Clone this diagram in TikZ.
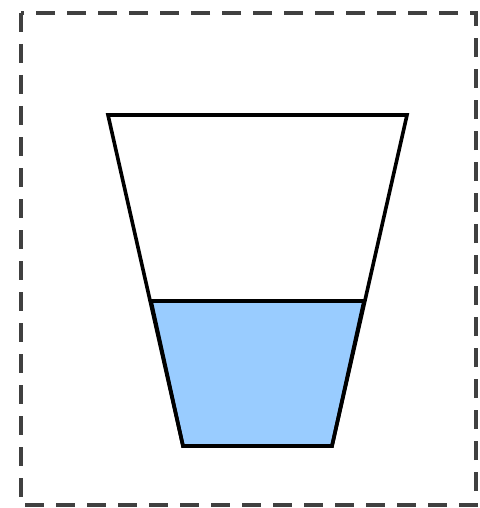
\documentclass[tikz,border=0pt]{standalone}
\usepackage{tikz}
\usetikzlibrary{backgrounds}

\definecolor{waterblue}{RGB}{153,204,255}

\begin{document}
\begin{tikzpicture}[x=1pt, y=-1pt, line join=miter]
    \useasboundingbox (0,0) rectangle (479,508);
    % ---------------- frame
    \draw[line width=3.4pt, black!75, dash pattern=on 19pt off 12pt] (21,13) rectangle (476,505);
    % ---------------- water (fill first, outline on top)
    \filldraw[fill=waterblue, line width=3.6pt] (151,301) -- (364,301) -- (332,446) -- (183,446) -- cycle;
    % ---------------- cup
    \draw[line width=3.6pt] (108,115) -- (407,115) -- (332,446) -- (183,446) -- cycle;
\end{tikzpicture}
\end{document}
